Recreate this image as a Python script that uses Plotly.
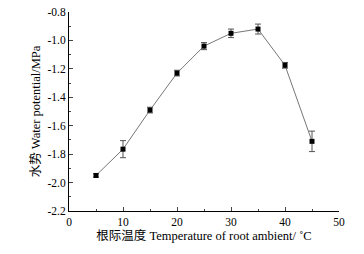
import plotly.graph_objects as go

temps = [5, 10, 15, 20, 25, 30, 35, 40, 45]
potential = [-1.95, -1.765, -1.49, -1.23, -1.04, -0.95, -0.92, -1.175, -1.71]
errors = [0.012, 0.06, 0.02, 0.02, 0.025, 0.03, 0.035, 0.02, 0.072]

y_ticks = [-2.2, -2.0, -1.8, -1.6, -1.4, -1.2, -1.0, -0.8]
y_ticktext = ["%.1f" % v for v in y_ticks]
x_ticks = [0, 10, 20, 30, 40, 50]

font_family = "Liberation Serif, Times New Roman, Noto Sans CJK SC, serif"

fig = go.Figure()
fig.add_trace(go.Scatter(
    x=temps, y=potential,
    mode="lines+markers",
    line=dict(color="#777777", width=1),
    marker=dict(symbol="square", size=5, color="black"),
    error_y=dict(type="data", array=errors, visible=True, color="#555555", thickness=1, width=3),
    showlegend=False,
))

fig.update_layout(
    width=364, height=254,
    margin=dict(l=69, r=25, t=12, b=43, autoexpand=False),
    paper_bgcolor="white", plot_bgcolor="white",
    font=dict(family=font_family, size=11.5, color="black"),
    xaxis=dict(
        range=[0, 50], tickvals=x_ticks, ticks="inside", ticklen=4, automargin=False,
        showline=True, linecolor="black", linewidth=1, showgrid=False, zeroline=False,
        minor=dict(ticks="inside", ticklen=2, dtick=5, tick0=0),
        title=dict(text="根际温度 Temperature of root ambient/ ˚C", standoff=4,
                   font=dict(size=12.5)),
    ),
    yaxis=dict(
        range=[-2.2, -0.8], tickvals=y_ticks, ticktext=y_ticktext, ticks="inside", ticklen=4,
        automargin=False,
        showline=True, linecolor="black", linewidth=1, showgrid=False, zeroline=False,
        minor=dict(ticks="inside", ticklen=2, dtick=0.1, tick0=-2.2),
        title=dict(text="水势 Water potential/MPa", standoff=4, font=dict(size=12.5)),
    ),
)

fig.write_html(
    "out.html",
    config={"displayModeBar": False},
    post_script="document.body.style.margin='0';document.body.style.overflow='hidden';",
)
